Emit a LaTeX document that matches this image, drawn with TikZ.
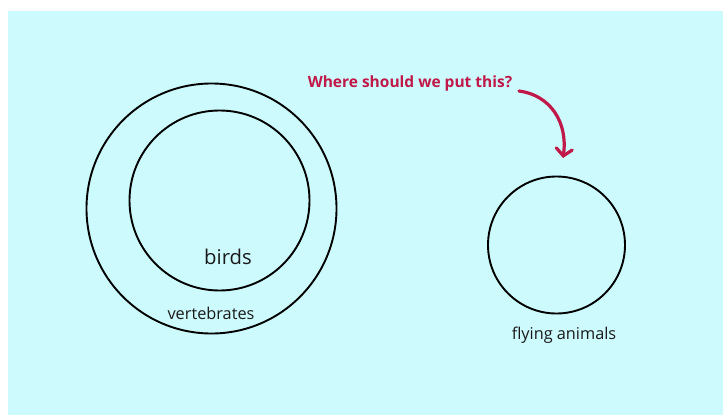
\documentclass[tikz,border=0pt]{standalone}
\usepackage{fontspec}
\setmainfont{Open Sans}
\usepackage{xcolor}
\usetikzlibrary{positioning,arrows.meta}
\definecolor{skyfill}{RGB}{205,250,252}
\definecolor{askred}{RGB}{192,24,72}

\begin{document}
\begin{tikzpicture}[
  x=1pt, y=-1pt,
  ring/.style={draw=black, circle, line width=1.9pt, inner sep=0pt},
  tag/.style={font=\fontsize{16.3}{19}\selectfont, text=black!90, inner sep=0pt},
  ask/.style={font=\bfseries\fontsize{15.5}{19}\selectfont, text=askred, inner sep=0pt},
  askflow/.style={-{Straight Barb[length=7pt,width=16pt,line cap=round]},
                  line width=3.2pt, draw=askred, line cap=round},
]
\useasboundingbox (0,0) rectangle (723,415);
\fill[skyfill] (8,11) rectangle (723,415);
% sets
\node[ring, minimum size=250pt] (vert) at (211.5,208.5) {};
\node[ring, minimum size=180pt] (bird) at (219.5,200.5) {};
\node[ring, minimum size=137pt] (fly) at (556.5,245) {};
% labels
\node[tag, font=\fontsize{20.3}{24}\selectfont] (birdtag) at (228,257) {birds};
\node[tag] (verttag) at (211,313) {vertebrates};
\node[tag] (flytag) at (564,335) {flying animals};
\node[ask] (question) at (410,83) {Where should we put this?};
% pointer
\coordinate (tail) at (519,91);
\coordinate (tip) at (563,158);
\draw[askflow] (tail) .. controls (550,95) and (568,122) .. (tip);
\end{tikzpicture}
\end{document}
